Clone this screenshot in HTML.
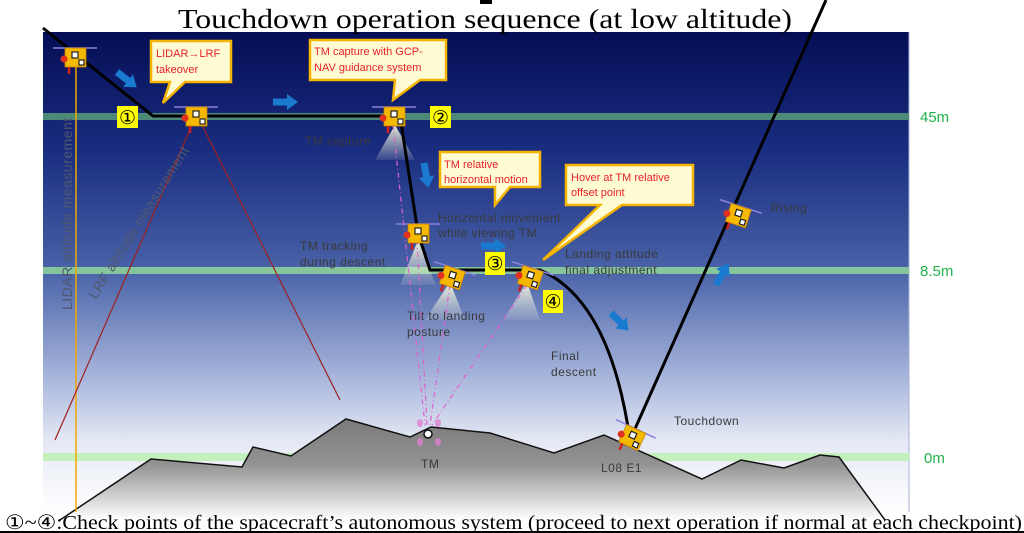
<!DOCTYPE html>
<html><head><meta charset="utf-8"><style>
html,body{margin:0;padding:0;background:#fff;width:1024px;height:533px;overflow:hidden}
svg{display:block}
.t{font-family:"Liberation Sans",sans-serif;font-size:12px;fill:#3a3a3a;letter-spacing:0.5px}
.r{font-family:"Liberation Sans",sans-serif;font-size:11px;fill:#e8202a}
.g{font-family:"Liberation Sans",sans-serif;font-size:15px;fill:#22b24c}
.ser{font-family:"Liberation Serif",serif}
</style></head><body>
<svg width="1024" height="533" viewBox="0 0 1024 533" xmlns="http://www.w3.org/2000/svg">
<defs>
<linearGradient id="sky" x1="0" y1="0" x2="0" y2="1">
<stop offset="0" stop-color="#050e55"/>
<stop offset="0.25" stop-color="#1a2d80"/>
<stop offset="0.5" stop-color="#4a63a8"/>
<stop offset="0.72" stop-color="#a8b6dc"/>
<stop offset="0.85" stop-color="#e4e8f4"/>
<stop offset="1" stop-color="#ffffff"/>
</linearGradient>
<linearGradient id="rock" x1="0" y1="0" x2="0" y2="1">
<stop offset="0" stop-color="#7a7a7a"/>
<stop offset="0.45" stop-color="#939393"/>
<stop offset="1" stop-color="#ffffff"/>
</linearGradient>
<linearGradient id="cone" x1="0" y1="0" x2="0" y2="1">
<stop offset="0" stop-color="#ffffe0" stop-opacity="0.9"/>
<stop offset="1" stop-color="#ffffe0" stop-opacity="0.1"/>
</linearGradient>
<g id="sc">
<line x1="-22" y1="-9" x2="22" y2="-9" stroke="#8a80e0" stroke-width="1.5"/>
<rect x="-10" y="-9" width="21" height="19" fill="#f5b800" stroke="#c88000" stroke-width="0.8"/>
<rect x="-3" y="-5" width="6" height="6" fill="#fff" stroke="#222" stroke-width="1.2"/>
<rect x="4" y="3" width="5" height="5" fill="#fff" stroke="#222" stroke-width="1.2"/>
<circle cx="-11" cy="2" r="3.5" fill="#e03020"/>
<line x1="-6" y1="10" x2="-6" y2="17" stroke="#d02020" stroke-width="2.5"/>
</g>
<g id="ar"><path d="M0,-3.5 L14,-3.5 L14,-8 L25,0 L14,8 L14,3.5 L0,3.5 Z" fill="#1a7ad0"/></g>
</defs>
<rect x="43" y="32" width="866" height="480" fill="url(#sky)"/>
<line x1="909" y1="32" x2="909" y2="512" stroke="#a8b0d0" stroke-width="1"/>
<rect x="43" y="113" width="866" height="7" fill="#4e8a78"/>
<rect x="43" y="267" width="866" height="7" fill="#86c49c"/>
<rect x="43" y="453" width="866" height="8" fill="#c4f0bc"/>
<text x="920" y="122" class="g">45m</text>
<text x="920" y="276" class="g">8.5m</text>
<text x="924" y="463" class="g">0m</text>
<polygon points="60,520 151,459 242,467 253,447 291,456 346,419 410,437 431,427 490,433 554,453 604,435 702,479 741,460 784,468 820,455 839,457 885,520" fill="url(#rock)"/>
<polyline points="60,520 151,459 242,467 253,447 291,456 346,419 410,437 431,427 490,433 554,453 604,435 702,479 741,460 784,468 820,455 839,457 885,520" fill="none" stroke="#111" stroke-width="1.5"/>
<line x1="76" y1="65" x2="76" y2="512" stroke="#f0a800" stroke-width="1.5"/>
<line x1="192" y1="125" x2="55" y2="440" stroke="#a02020" stroke-width="1.2"/>
<line x1="202" y1="125" x2="340" y2="400" stroke="#a02020" stroke-width="1.2"/>
<text class="t" transform="translate(72,310) rotate(-90)" style="font-size:14px;fill:#505870">LIDAR altitude measurement</text>
<text class="t" transform="translate(96,300) rotate(-58)" style="font-size:14px;fill:#505870">LRF altitude measurement</text>
<polygon points="395,125 375,160 415,160" fill="url(#cone)"/>
<polygon points="418,240 400,285 436,285" fill="url(#cone)"/>
<polygon points="450,282 425,320 465,320" fill="url(#cone)"/>
<polygon points="527,282 503,320 540,320" fill="url(#cone)"/>
<g stroke="#e060d0" stroke-width="1.2" stroke-dasharray="5,3,1,3" fill="none">
<line x1="393" y1="125" x2="425" y2="425"/>
<line x1="417" y1="240" x2="427" y2="425"/>
<line x1="450" y1="285" x2="430" y2="425"/>
<line x1="527" y1="285" x2="432" y2="425"/>
</g>
<ellipse cx="420" cy="423" rx="3" ry="4" fill="#e080d0" opacity="0.8"/>
<ellipse cx="438" cy="423" rx="3" ry="4" fill="#e080d0" opacity="0.8"/>
<ellipse cx="420" cy="442" rx="3" ry="4" fill="#e080d0" opacity="0.8"/>
<ellipse cx="438" cy="442" rx="3" ry="4" fill="#e080d0" opacity="0.8"/>
<circle cx="428" cy="434" r="4" fill="#fff" stroke="#111" stroke-width="1.5"/>
<path d="M43,28 L153,116 L400,116 L418,233 L430,270 L540,270 Q610,300 630,440" fill="none" stroke="#000" stroke-width="3"/>
<path d="M630,440 L826,0" fill="none" stroke="#000" stroke-width="3"/>
<use href="#sc" x="75" y="57"/>
<use href="#sc" x="196" y="116"/>
<use href="#sc" x="394" y="116"/>
<use href="#sc" x="418" y="233"/>
<use href="#sc" transform="translate(452,277) rotate(18)"/>
<use href="#sc" transform="translate(530,277) rotate(18)"/>
<use href="#sc" transform="translate(632,437) rotate(25)"/>
<use href="#sc" transform="translate(738,215) rotate(18)"/>
<use href="#ar" transform="translate(117,72) rotate(38)"/>
<use href="#ar" x="273" y="102"/>
<use href="#ar" transform="translate(424,163) rotate(80)"/>
<use href="#ar" x="481" y="246"/>
<use href="#ar" transform="translate(611,313) rotate(45)"/>
<use href="#ar" transform="translate(716,285) rotate(-60)"/>
<g font-family="'DejaVu Sans',sans-serif" font-size="19" text-anchor="middle">
<rect x="117" y="106" width="21" height="22" fill="#ffff00"/><text x="127.5" y="124">①</text>
<rect x="430" y="106" width="21" height="22" fill="#ffff00"/><text x="440.5" y="124">②</text>
<rect x="485" y="252" width="20" height="23" fill="#ffff00"/><text x="495" y="270">③</text>
<rect x="543" y="290" width="20" height="23" fill="#ffff00"/><text x="553" y="308">④</text>
</g>
<g fill="#fffbd2" stroke="#f5b400" stroke-width="2.5">
<path d="M151,41 H231 V82 H185 L163,103 L170,82 H151 Z"/>
<path d="M310,40 H446 V80 H420 L393,100 L395,80 H310 Z"/>
<path d="M440,152 H540 V187 H510 L495,205 L495,187 H440 Z"/>
<path d="M566,165 H693 V205 H622 L543,260 L600,205 H566 Z"/>
</g>
<text x="156" y="57" class="r">LIDAR→LRF</text><text x="156" y="73" class="r">takeover</text>
<text x="314" y="55" class="r">TM capture with GCP-</text><text x="314" y="71" class="r">NAV guidance system</text>
<text x="444" y="168" class="r">TM relative</text><text x="444" y="183" class="r">horizontal motion</text>
<text x="571" y="181" class="r">Hover at TM relative</text><text x="571" y="196" class="r">offset point</text>
<text x="305" y="145" class="t">TM capture</text>
<text x="438" y="222" class="t">Horizontal movement</text><text x="438" y="237" class="t">while viewing TM</text>
<text x="300" y="250" class="t">TM tracking</text><text x="300" y="266" class="t">during descent</text>
<text x="565" y="258" class="t">Landing attitude</text><text x="565" y="274" class="t">final adjustment</text>
<text x="407" y="320" class="t">Tilt to landing</text><text x="407" y="336" class="t">posture</text>
<text x="551" y="360" class="t">Final</text><text x="551" y="376" class="t">descent</text>
<text x="674" y="425" class="t">Touchdown</text>
<text x="771" y="212" class="t">Rising</text>
<text x="421" y="468" class="t">TM</text>
<text x="601" y="472" class="t">L08  E1</text>
<text x="485" y="28" class="ser" font-size="27" text-anchor="middle" fill="#000" textLength="614" lengthAdjust="spacingAndGlyphs">Touchdown operation sequence (at low altitude)</text>
<rect x="480" y="0" width="12" height="4" fill="#000"/>
<text x="5" y="529" class="ser" font-size="20" fill="#000" textLength="1017" lengthAdjust="spacingAndGlyphs">①~④:Check points of the spacecraft’s autonomous system (proceed to next operation if normal at each checkpoint)</text>
<line x1="0" y1="532" x2="1024" y2="532" stroke="#000" stroke-width="2"/>
</svg>
</body></html>
